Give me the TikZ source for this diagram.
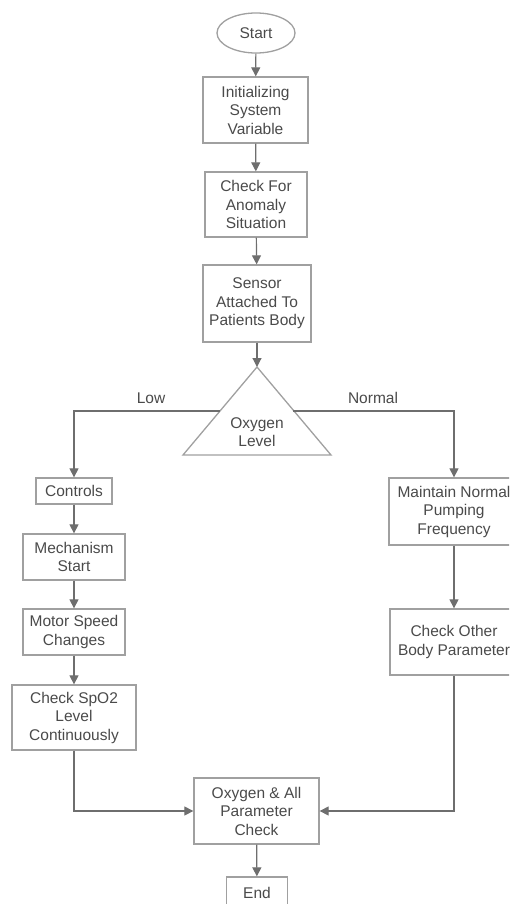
\documentclass[tikz,border=0pt]{standalone}
\usepackage{fontspec}
\setmainfont{Liberation Sans}
\usetikzlibrary{shapes.geometric, arrows.meta}
\definecolor{linegray}{HTML}{6E6E6E}
\definecolor{boxgray}{HTML}{A0A0A0}
\definecolor{textgray}{HTML}{4A4A4A}
\begin{document}
\begin{tikzpicture}[x=1pt, y=-1pt,
        font=\fontsize{15.5}{18.5}\selectfont,
        block/.style={draw=boxgray, line width=1.3pt, text=textgray, align=center, inner sep=0pt},
        flow/.style={draw=linegray, line width=1.2pt, -{Triangle[length=9pt, width=9pt, fill=linegray]}},
        wire/.style={draw=linegray, line width=1.2pt},
        tag/.style={text=textgray, inner sep=0pt}]

    % the frame
    \useasboundingbox (0, 0) rectangle (509, 904);
    \path[clip] (0, 0) rectangle (509, 904);

    % the main column
    \node[block, ellipse, minimum width=78pt, minimum height=40pt] (start) at (256, 33) {Start};
    \node[block, minimum width=105pt, minimum height=66pt] (init) at (255.5, 110) {Initializing\\System\\Variable};
    \node[block, minimum width=102pt, minimum height=65pt] (anomaly) at (256, 204.5) {Check For\\Anomaly\\Situation};
    \node[block, minimum width=108pt, minimum height=77pt] (sensor) at (257, 303.5) {Sensor\\Attached To\\Patients Body};

    % the decision
    \coordinate (apex) at (257, 367);
    \coordinate (baseL) at (183, 455);
    \coordinate (baseR) at (331, 455);
    \draw[block] (apex) -- (baseL) -- (baseR) -- cycle;
    \node[tag, align=center] (oxylevel) at (257, 432) {Oxygen\\Level};
    \coordinate (lowfork) at (220, 411);
    \coordinate (normfork) at (293, 411);

    % low branch
    \node[block, minimum width=76pt, minimum height=26pt] (controls) at (74, 491) {Controls};
    \node[block, minimum width=102pt, minimum height=46pt] (mech) at (74, 557) {Mechanism\\Start};
    \node[block, minimum width=102pt, minimum height=46pt] (motor) at (74, 632) {Motor Speed\\Changes};
    \node[block, minimum width=124pt, minimum height=65pt] (spo) at (74, 717.5) {Check SpO2\\Level\\Continuously};

    % normal branch
    \node[block, minimum width=130pt, minimum height=67pt] (maintain) at (454, 511.5) {Maintain Normal\\Pumping\\Frequency};
    \node[block, minimum width=128pt, minimum height=66pt] (other) at (454, 642) {Check Other\\Body Parameter};

    % the join
    \node[block, minimum width=125pt, minimum height=66pt] (allcheck) at (256.5, 811) {Oxygen \& All\\Parameter\\Check};
    \node[block, minimum width=61pt, minimum height=32pt] (finish) at (257, 893) {End};

    % arrows
    \draw[flow] (start) -- (init);
    \draw[flow] (init) -- (anomaly);
    \draw[flow] (anomaly) -- (sensor);
    \draw[flow] (sensor) -- (apex);
    \draw[flow] (lowfork) -| (controls.north);
    \draw[flow] (normfork) -| (maintain.north);
    \draw[flow] (controls) -- (mech);
    \draw[flow] (mech) -- (motor);
    \draw[flow] (motor) -- (spo);
    \draw[flow] (maintain) -- (other);
    \draw[flow] (spo.south) |- (allcheck.west);
    \draw[flow] (other.south) |- (allcheck.east);
    \draw[flow] (allcheck) -- (finish);

    % branch labels
    \node[tag] (lowtag) at (151, 398) {Low};
    \node[tag] (normaltag) at (373, 398) {Normal};
\end{tikzpicture}
\end{document}
